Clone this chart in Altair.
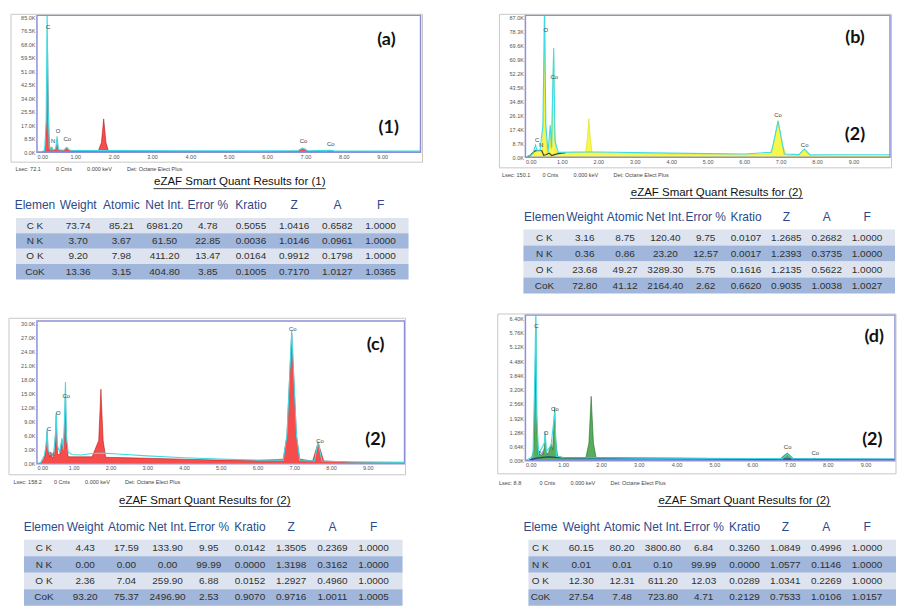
import altair as alt
import pandas as pd

# ---------------- spectra data (energy in keV, counts in thousands) ----------------
X_TICKS = [0, 1, 2, 3, 4, 5, 6, 7, 8, 9]

A_KEV = [0.00, 0.10, 0.18, 0.22, 0.25, 0.265, 0.277, 0.29, 0.31, 0.33, 0.36, 0.39, 0.42, 0.48, 0.525,
         0.56, 0.70, 0.74, 0.776, 0.82, 0.90, 1.20, 1.60, 1.68, 1.74, 1.80, 1.86, 2.00, 2.30, 3.00,
         4.00, 5.00, 6.00, 6.80, 6.86, 6.93, 7.00, 7.08, 7.55, 7.65, 7.75, 8.50, 10.0]
A_CNT = [0, 0, 0.5, 3, 20, 45, 63, 40, 13, 4, 1.5, 3, 1, 1.5, 5.5,
         1.2, 1, 2, 3.2, 1.5, 1, 0.8, 0.9, 6, 21, 6, 1, 0.9, 0.8, 0.6,
         0.5, 0.4, 0.3, 0.6, 1.8, 2.5, 1.8, 0.4, 0.3, 0.6, 0.3, 0.2, 0.1]
A_FIT_KEV = [0.00, 0.12, 0.20, 0.24, 0.265, 0.29, 0.32, 0.36, 0.39, 0.42, 0.49, 0.525, 0.56,
             0.70, 0.776, 0.85, 1.00, 2.00, 4.00, 6.00, 6.80, 6.93, 7.05, 7.65, 7.75, 10.0]
A_FIT_CNT = [0, 0.2, 1, 20, 90, 30, 3, 1.5, 3, 1.2, 2, 10, 1.5,
             1.2, 3, 1.2, 1.1, 1.0, 0.9, 0.8, 0.9, 2.5, 0.9, 1.2, 0.8, 0.7]
A_YTICKS = [0, 8.5, 17.0, 25.5, 34.0, 42.5, 51.0, 59.5, 68.0, 76.5, 85.0]
A_LAB = ["C", "N", "O", "Co", "Co", "Co"]
A_LAB_KEV = [0.29, 0.42, 0.55, 0.79, 6.95, 7.66]
A_LAB_CNT = [79, 6.8, 13.6, 8, 6.8, 5]

B_KEV = [0.00, 0.10, 0.20, 0.25, 0.28, 0.32, 0.40, 0.46, 0.50, 0.525, 0.55, 0.60, 0.65, 0.68, 0.71,
         0.74, 0.776, 0.80, 0.85, 1.00, 1.30, 1.65, 1.70, 1.74, 1.78, 1.83, 2.50, 4.00, 5.00, 6.00,
         6.70, 6.80, 6.93, 7.05, 7.15, 7.50, 7.58, 7.65, 7.72, 7.80, 8.50, 10.0]
B_CNT = [0, 0.5, 2, 3.5, 5, 3.5, 4, 3, 30, 95, 20, 2, 4, 14, 5,
         30, 62, 20, 3, 2.5, 3, 3, 12, 24, 12, 3, 2.5, 2, 1.8, 1.5,
         2, 8, 23, 8, 1.5, 1.2, 3, 4.5, 3, 1, 0.8, 0.7]
B_FIT_KEV = [0.00, 0.20, 0.277, 0.32, 0.40, 0.48, 0.525, 0.56, 0.62, 0.68, 0.72, 0.745, 0.776,
             0.81, 0.90, 1.50, 2.00, 4.00, 6.00, 6.75, 6.93, 7.10, 7.50, 7.65, 7.80, 10.0]
B_FIT_CNT = [0, 2, 7.5, 4, 4, 20, 95, 20, 3, 20, 6, 40, 68,
             10, 3, 3.2, 3.2, 2.5, 2, 3, 22.5, 2, 1.6, 5, 1.5, 1.5]
B_DARK_KEV = [0.05, 0.15, 0.25, 0.35, 0.45, 0.50, 0.56, 0.65, 0.72, 0.80, 0.90, 1.10]
B_DARK_CNT = [0, 1.5, 3.8, 4.3, 4.0, 1.2, 1.5, 2.5, 1.0, 1.6, 2.2, 2.8]
B_YTICKS = [0, 8.7, 17.4, 26.1, 34.8, 43.5, 52.2, 60.9, 69.6, 78.3, 87.0]
B_LAB = ["C", "N", "O", "Co", "Co", "Co"]
B_LAB_KEV = [0.32, 0.43, 0.56, 0.79, 6.93, 7.66]
B_LAB_CNT = [10.4, 7.4, 79.5, 50, 26, 7.5]

C_KEV = [0.00, 0.10, 0.18, 0.22, 0.25, 0.277, 0.30, 0.35, 0.39, 0.43, 0.48, 0.525, 0.56, 0.62, 0.68,
         0.72, 0.75, 0.776, 0.80, 0.85, 1.00, 1.50, 1.68, 1.74, 1.80, 1.87, 2.50, 3.00, 4.00, 5.00,
         6.00, 6.70, 6.80, 6.93, 7.06, 7.15, 7.50, 7.57, 7.65, 7.73, 7.80, 8.50, 10.0]
C_CNT = [0, 0, 1, 2, 4, 7, 3, 1.5, 2, 1.2, 2, 10.5, 2, 2, 5,
         3, 8, 15, 5, 1.5, 1.5, 1.5, 5, 16, 5, 1.4, 1.3, 1.2, 1.0, 0.8,
         0.7, 1.0, 6, 28, 6, 1, 0.6, 2.5, 4.5, 2.5, 0.6, 0.4, 0.3]
C_FIT_KEV = [0.00, 0.10, 0.20, 0.25, 0.277, 0.30, 0.35, 0.45, 0.50, 0.525, 0.55, 0.62, 0.68, 0.72,
             0.75, 0.776, 0.80, 0.85, 0.95, 1.20, 1.50, 1.80, 2.20, 3.00, 4.00, 5.00, 6.00, 6.70,
             6.80, 6.93, 7.06, 7.15, 7.55, 7.65, 7.75, 8.50, 10.0]
C_FIT_CNT = [0, 0.3, 1.8, 4, 7.5, 3, 2.2, 2.0, 6, 11, 4, 2.5, 5.5, 3,
             10, 17.5, 6, 2.5, 2.0, 1.9, 2.2, 2.3, 2.1, 1.7, 1.3, 1.0, 0.8, 0.8,
             6, 28.5, 6, 0.7, 0.6, 4.8, 0.6, 0.4, 0.3]
C_YTICKS = [0, 3, 6, 9, 12, 15, 18, 21, 24, 27, 30]
C_LAB = ["C", "N", "O", "Co", "Co", "Co"]
C_LAB_KEV = [0.33, 0.41, 0.58, 0.80, 6.96, 7.70]
C_LAB_CNT = [7.5, 2, 10.8, 14.5, 28.8, 4.9]

D_KEV = [0.00, 0.15, 0.22, 0.25, 0.277, 0.30, 0.33, 0.39, 0.45, 0.50, 0.525, 0.55, 0.60, 0.65, 0.68,
         0.72, 0.75, 0.776, 0.80, 0.85, 1.00, 1.60, 1.68, 1.74, 1.80, 1.87, 3.00, 5.00, 6.75, 6.85,
         6.93, 7.00, 7.10, 7.60, 7.65, 7.70, 10.0]
D_CNT = [0, 0.05, 0.5, 3, 6.0, 2, 0.3, 0.3, 0.2, 0.6, 1.2, 0.4, 0.3, 0.6, 0.75,
         0.5, 1.5, 2.4, 1.0, 0.2, 0.15, 0.15, 0.8, 2.9, 0.8, 0.15, 0.12, 0.1, 0.1, 0.25,
         0.35, 0.25, 0.08, 0.07, 0.12, 0.07, 0.05]
D_FIT_KEV = [0.00, 0.20, 0.25, 0.277, 0.30, 0.35, 0.50, 0.525, 0.55, 0.68, 0.776, 0.82, 1.00,
             3.00, 6.80, 6.93, 7.06, 10.0]
D_FIT_CNT = [0, 0.2, 4, 7, 2, 0.3, 0.8, 1.3, 0.4, 0.7, 2.2, 0.2, 0.15,
             0.12, 0.1, 0.3, 0.1, 0.08]
D_DARK_KEV = [0.10, 0.30, 0.60, 0.90, 2.00, 5.00, 10.0]
D_DARK_CNT = [0.03, 0.12, 0.18, 0.14, 0.12, 0.10, 0.06]
D_YTICKS = [0, 0.64, 1.28, 1.92, 2.56, 3.20, 3.84, 4.48, 5.12, 5.76, 6.40]
D_LAB = ["C", "N", "O", "Co", "Co", "Co"]
D_LAB_KEV = [0.29, 0.41, 0.55, 0.78, 6.94, 7.67]
D_LAB_CNT = [6.04, 0.34, 1.24, 2.34, 0.63, 0.36]

# ---------------- table data ----------------
HEADERS = ["Elemen", "Weight", "Atomic", "Net Int.", "Error %", "Kratio", "Z", "A", "F"]
HEADERS_D = ["Eleme", "Weight", "Atomic", "Net Int.", "Error %", "Kratio", "Z", "A", "F"]
ELEMENTS = ["C K", "N K", "O K", "CoK"]

A_WT = [73.74, 3.70, 9.20, 13.36]
A_AT = [85.21, 3.67, 7.98, 3.15]
A_NET = [6981.20, 61.50, 411.20, 404.80]
A_ERR = [4.78, 22.85, 13.47, 3.85]
A_KR = [0.5055, 0.0036, 0.0164, 0.1005]
A_Z = [1.0416, 1.0146, 0.9912, 0.7170]
A_A = [0.6582, 0.0961, 0.1798, 1.0127]
A_F = [1.0000, 1.0000, 1.0000, 1.0365]

B_WT = [3.16, 0.36, 23.68, 72.80]
B_AT = [8.75, 0.86, 49.27, 41.12]
B_NET = [120.40, 23.20, 3289.30, 2164.40]
B_ERR = [9.75, 12.57, 5.75, 2.62]
B_KR = [0.0107, 0.0017, 0.1616, 0.6620]
B_Z = [1.2685, 1.2393, 1.2135, 0.9035]
B_A = [0.2682, 0.3735, 0.5622, 1.0038]
B_F = [1.0000, 1.0000, 1.0000, 1.0027]

C_WT = [4.43, 0.00, 2.36, 93.20]
C_AT = [17.59, 0.00, 7.04, 75.37]
C_NET = [133.90, 0.00, 259.90, 2496.90]
C_ERR = [9.95, 99.99, 6.88, 2.53]
C_KR = [0.0142, 0.0000, 0.0152, 0.9070]
C_Z = [1.3505, 1.3198, 1.2927, 0.9716]
C_A = [0.2369, 0.3162, 0.4960, 1.0011]
C_F = [1.0000, 1.0000, 1.0000, 1.0005]

D_WT = [60.15, 0.01, 12.30, 27.54]
D_AT = [80.20, 0.01, 12.31, 7.48]
D_NET = [3800.80, 0.10, 611.20, 723.80]
D_ERR = [6.84, 99.99, 12.03, 4.71]
D_KR = [0.3260, 0.0000, 0.0289, 0.2129]
D_Z = [1.0849, 1.0577, 1.0341, 0.7533]
D_A = [0.4996, 0.1146, 0.2269, 1.0106]
D_F = [1.0000, 1.0000, 1.0000, 1.0157]

# ---------------- styling ----------------
FONT = "Liberation Sans"
CYAN = "#3fdbe4"
FRAME = "#8d90d6"
BOX = "#c8c8c8"
LIGHT = "#dde4ef"
DARK = "#a0b6da"
HEAD = "#2c4a8a"
NB = "\u00a0"
DUMMY = pd.DataFrame({"d": [0]})


def lsec_text(lsec, gap1):
    return (f"Lsec: {lsec}" + NB * gap1 + "0 Cnts" + NB * 10 + "0.000 keV" + NB * 10
            + "Det: Octane Elect Plus")


def spectrum(kev, cnt, fkev, fcnt, dkev, dcnt, lab, lkev, lcnt, big1, big2, fill, edge, dark_col,
             xmax, ymax, yticks, yfmt, plot_w, chart_w, plot_h, top, lsec, gap1, tx, ty, box):
    chart_h = plot_h + top
    xs = alt.Scale(domain=[0, xmax], range=[0, plot_w], nice=False, zero=False)
    ys = alt.Scale(domain=[0, ymax], range=[chart_h, top], nice=False, zero=False)
    xaxis = alt.Axis(values=X_TICKS, format=".2f", labelFontSize=5.5, labelColor="#555",
                     labelPadding=2, domain=False, ticks=False, grid=False, zindex=2,
                     title=lsec_text(lsec, gap1), titleX=tx, titleY=ty, titleAlign="left",
                     titleBaseline="middle", titleFontSize=5.5, titleFontWeight="normal",
                     titleColor="#444")
    yaxis = alt.Axis(values=yticks, labelExpr=f"format(datum.value, '{yfmt}') + 'K'",
                     labelFontSize=5.5, labelColor="#555", labelPadding=2, labelFlush=False,
                     domain=False, ticks=False, grid=False, title=None, zindex=2)
    X = alt.X("kev:Q", scale=xs, axis=xaxis)
    Y = alt.Y("cnt:Q", scale=ys, axis=yaxis)
    layers = [
        alt.Chart(pd.DataFrame({"kev": kev, "cnt": cnt})).mark_area(
            color=fill, line={"color": edge, "strokeWidth": 0.5}, clip=True).encode(x=X, y=Y),
    ]
    if dkev:
        layers.append(alt.Chart(pd.DataFrame({"kev": dkev, "cnt": dcnt})).mark_line(
            color=dark_col, strokeWidth=1.2, clip=True).encode(x=X, y=Y))
    layers.append(alt.Chart(pd.DataFrame({"kev": fkev, "cnt": fcnt})).mark_line(
        color=CYAN, strokeWidth=1.1, clip=True).encode(x=X, y=Y))
    layers.append(alt.Chart(DUMMY).mark_rect(fillOpacity=0, stroke=FRAME, strokeWidth=1.5).encode(
        x=alt.XDatum(0, scale=xs, axis=xaxis), x2=alt.X2Datum(xmax),
        y=alt.YDatum(0, scale=ys, axis=yaxis), y2=alt.Y2Datum(ymax)))
    layers.append(alt.Chart(DUMMY).mark_rect(fillOpacity=0, stroke=BOX, strokeWidth=1).encode(
        x=alt.value(box[0]), x2=alt.value(box[1]), y=alt.value(box[2] + top),
        y2=alt.value(box[3] + top)))
    layers.append(alt.Chart(pd.DataFrame({"kev": lkev, "cnt": lcnt, "lab": lab})).mark_text(
        fontSize=6, color="#444").encode(x=X, y=Y, text="lab:N"))
    bigdf = pd.DataFrame({"kev": [big1[0], big2[0]], "cnt": [big1[1], big2[1]],
                          "lab": [big1[2], big2[2]]})
    layers.append(alt.Chart(bigdf).mark_text(font="Lato", fontWeight="bold", fontSize=18,
                                             color="#111").encode(x=X, y=Y, text="lab:N"))
    return alt.layer(*layers).properties(width=chart_w, height=chart_h)


def table(title, headers, cols, chart_w, chart_h, c0, c8, r0, r3, title_xy, ul, header_y, bg):
    xs = alt.Scale(domain=[0, 8], range=[c0, c8], nice=False, zero=False)
    ys = alt.Scale(domain=[0, 3], range=[r0, r3], nice=False, zero=False)
    fmts = ["{}", "{:.2f}", "{:.2f}", "{:.2f}", "{:.2f}", "{:.4f}", "{:.4f}", "{:.4f}", "{:.4f}"]
    recs = []
    for c, (vals, f) in enumerate(zip(cols, fmts)):
        for r, v in enumerate(vals):
            recs.append({"row": r, "col": c, "txt": f.format(v)})
    cells = pd.DataFrame(recs)
    rows = pd.DataFrame({"row": [0, 1, 2, 3], "shade": ["l", "d", "l", "d"]})
    rows["lo"] = rows["row"] - 0.5
    rows["hi"] = rows["row"] + 0.5
    heads = pd.DataFrame({"col": list(range(9)), "txt": headers})
    bgl = alt.Chart(rows).mark_rect().encode(
        x=alt.value(bg[0]), x2=alt.value(bg[1]),
        y=alt.Y("lo:Q", scale=ys, axis=None), y2="hi:Q",
        color=alt.Color("shade:N", scale=alt.Scale(domain=["l", "d"], range=[LIGHT, DARK]),
                        legend=None))
    txt = alt.Chart(cells).mark_text(fontSize=10, color="#303030").encode(
        x=alt.X("col:Q", scale=xs, axis=None), y=alt.Y("row:Q", axis=None), text="txt:N")
    hdr = alt.Chart(heads).mark_text(fontSize=12, color=HEAD).encode(
        x=alt.X("col:Q", axis=None), y=alt.value(header_y), text="txt:N")
    ttl = alt.Chart(DUMMY).mark_text(text=title, fontSize=11.5, color="#111").encode(
        x=alt.value(title_xy[0]), y=alt.value(title_xy[1]))
    und = alt.Chart(DUMMY).mark_rule(color="#111", strokeWidth=0.8).encode(
        x=alt.value(ul[0]), x2=alt.value(ul[1]), y=alt.value(ul[2]))
    return alt.layer(bgl, txt, hdr, ttl, und).properties(width=chart_w, height=chart_h)


# row 0 starts at y=15, row 1 at 157, row 2 at 315, row 3 at 464
spec_a = spectrum(A_KEV, A_CNT, A_FIT_KEV, A_FIT_CNT, [], [], A_LAB, A_LAB_KEV, A_LAB_CNT,
                  (9.11, 70.6, "(a)"), (9.17, 15.1, "(1)"), "#f20000", "#b00000", "#000",
                  10, 86.3, A_YTICKS, ".1f", 384, 481, 137, 0, "72.1", 10, -22, 16,
                  (-26, 386, -1, 147))
spec_b = spectrum(B_KEV, B_CNT, B_FIT_KEV, B_FIT_CNT, B_DARK_KEV, B_DARK_CNT, B_LAB, B_LAB_KEV,
                  B_LAB_CNT, (9.04, 74.1, "(b)"), (9.04, 13.7, "(2)"), "#f4f400", "#d8d800",
                  "#4a4420", 10, 88.4, B_YTICKS, ".1f", 365, 367, 142, 0, "150.1", 8, -24, 17,
                  (-26, 366.5, -1, 152.7))
spec_c = spectrum(C_KEV, C_CNT, C_FIT_KEV, C_FIT_CNT, [], [], C_LAB, C_LAB_KEV, C_LAB_CNT,
                  (9.21, 25.5, "(c)"), (9.21, 5.1, "(2)"), "#f20000", "#b00000", "#000",
                  10, 30.6, C_YTICKS, ".1f", 368, 489, 143, 6, "158.2", 8, -24, 18,
                  (-28, 369, -2.7, 154))
spec_d = spectrum(D_KEV, D_CNT, D_FIT_KEV, D_FIT_CNT, D_DARK_KEV, D_DARK_CNT, D_LAB, D_LAB_KEV,
                  D_LAB_CNT, (9.23, 5.56, "(d)"), (9.18, 0.94, "(2)"), "#0f8a16", "#0a5e0e",
                  "#1f3f8f", 9.78, 6.55, D_YTICKS, ".2f", 370, 370, 146, 0, "8.8", 12, -27, 22,
                  (-27.7, 371, -1, 159))

tab_a = table("eZAF Smart Quant Results for (1)", HEADERS,
              [ELEMENTS, A_WT, A_AT, A_NET, A_ERR, A_KR, A_Z, A_A, A_F],
              481, 158, -2, 344, 68.5, 114.7, (203, 25), (116.7, 289, 31.5), 48, (-21, 372))
tab_b = table("eZAF Smart Quant Results for (2)", HEADERS,
              [ELEMENTS, B_WT, B_AT, B_NET, B_ERR, B_KR, B_Z, B_A, B_F],
              370, 158, 19, 342, 80.5, 128.5, (191.3, 36), (104.7, 278, 41.3), 60, (-2, 370))
tab_c = table("eZAF Smart Quant Results for (2)", HEADERS,
              [ELEMENTS, C_WT, C_AT, C_NET, C_ERR, C_KR, C_Z, C_A, C_F],
              489, 142, 7, 337, 84.3, 133.8, (168, 37.7), (82.3, 254, 42.7), 63, (-13, 366))
tab_d = table("eZAF Smart Quant Results for (2)", HEADERS_D,
              [ELEMENTS, D_WT, D_AT, D_NET, D_ERR, D_KR, D_Z, D_A, D_F],
              370, 142, 15, 342, 84.3, 133.8, (219, 37.7), (132.3, 305.7, 42.7), 63, (3, 371))

chart = alt.concat(spec_a, spec_b, tab_a, tab_b, spec_c, spec_d, tab_c, tab_d, columns=2).properties(
    spacing=0, bounds="flush", align="none",
    padding={"left": 8, "top": 13, "right": 0, "bottom": 0},
).configure(font=FONT).configure_view(stroke="transparent")

chart.save("out.html", embed_options={"renderer": "svg", "actions": False})
